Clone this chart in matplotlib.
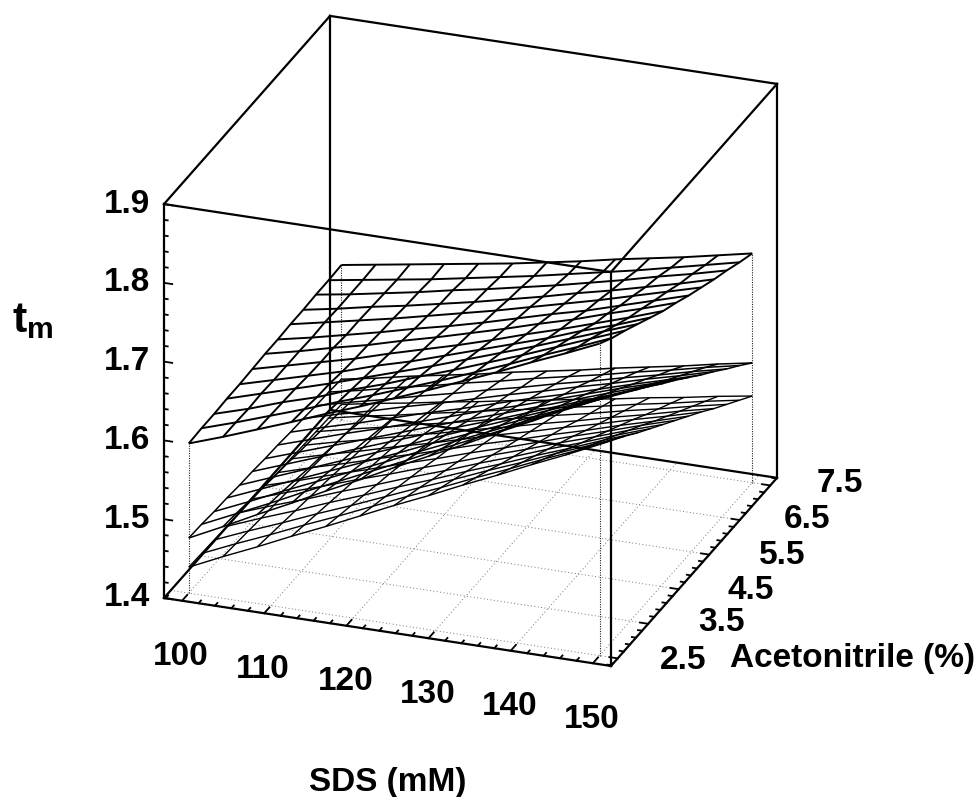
import itertools
import numpy as np
import matplotlib
matplotlib.use("Agg")
import matplotlib.pyplot as plt
from mpl_toolkits.mplot3d import proj3d

plt.rcParams['font.family'] = ['Liberation Sans', 'DejaVu Sans']
plt.rcParams['mathtext.fontset'] = 'custom'
plt.rcParams['mathtext.bf'] = 'Liberation Sans:bold'
plt.rcParams['mathtext.rm'] = 'Liberation Sans:bold'

# ---- data ---------------------------------------------------------------
sds_values = [100 + 50 * i / 12 for i in range(13)]
acn_values = [2.5 + 5 * j / 12 for j in range(13)]

surface_top = [
    [1.590,1.605,1.621,1.637,1.654,1.670,1.687,1.704,1.722,1.740,1.759,1.777,1.796],
    [1.591,1.605,1.620,1.635,1.651,1.666,1.682,1.698,1.715,1.732,1.750,1.767,1.785],
    [1.591,1.604,1.619,1.632,1.648,1.662,1.678,1.693,1.709,1.725,1.742,1.759,1.776],
    [1.592,1.605,1.618,1.631,1.645,1.659,1.673,1.688,1.703,1.718,1.734,1.750,1.766],
    [1.592,1.604,1.616,1.628,1.642,1.654,1.668,1.682,1.696,1.710,1.726,1.740,1.756],
    [1.593,1.604,1.615,1.626,1.639,1.651,1.663,1.676,1.690,1.703,1.717,1.731,1.746],
    [1.594,1.604,1.615,1.625,1.637,1.648,1.660,1.672,1.685,1.697,1.711,1.724,1.738],
    [1.594,1.603,1.613,1.623,1.634,1.644,1.655,1.667,1.679,1.690,1.703,1.716,1.729],
    [1.595,1.604,1.613,1.622,1.632,1.642,1.652,1.663,1.674,1.685,1.697,1.709,1.721],
    [1.595,1.603,1.612,1.620,1.629,1.638,1.648,1.658,1.669,1.679,1.690,1.701,1.713],
    [1.596,1.603,1.611,1.619,1.628,1.636,1.645,1.654,1.664,1.674,1.685,1.695,1.706],
    [1.596,1.603,1.610,1.617,1.625,1.633,1.641,1.650,1.659,1.668,1.678,1.688,1.698],
    [1.597,1.604,1.611,1.618,1.625,1.632,1.640,1.648,1.657,1.665,1.673,1.682,1.691],
]
surface_mid = [
    [1.470,1.491,1.513,1.534,1.556,1.577,1.599,1.620,1.641,1.663,1.684,1.706,1.727],
    [1.469,1.489,1.509,1.530,1.550,1.570,1.590,1.611,1.631,1.651,1.672,1.692,1.712],
    [1.467,1.486,1.506,1.525,1.544,1.563,1.583,1.602,1.621,1.640,1.660,1.679,1.698],
    [1.466,1.484,1.502,1.520,1.538,1.556,1.575,1.593,1.611,1.629,1.647,1.665,1.683],
    [1.464,1.481,1.498,1.515,1.532,1.549,1.567,1.584,1.601,1.618,1.635,1.652,1.669],
    [1.463,1.479,1.495,1.511,1.527,1.543,1.559,1.574,1.590,1.606,1.622,1.638,1.654],
    [1.461,1.476,1.491,1.506,1.521,1.536,1.551,1.565,1.580,1.595,1.610,1.625,1.640],
    [1.460,1.474,1.488,1.501,1.515,1.529,1.543,1.556,1.570,1.584,1.598,1.611,1.625],
    [1.458,1.471,1.483,1.496,1.509,1.521,1.534,1.547,1.559,1.572,1.585,1.597,1.610],
    [1.457,1.469,1.480,1.492,1.503,1.515,1.527,1.538,1.550,1.561,1.573,1.584,1.596],
    [1.455,1.466,1.476,1.487,1.497,1.508,1.518,1.529,1.539,1.550,1.560,1.571,1.581],
    [1.454,1.463,1.473,1.482,1.492,1.501,1.511,1.520,1.529,1.539,1.548,1.558,1.567],
    [1.452,1.460,1.469,1.477,1.485,1.494,1.502,1.510,1.519,1.527,1.535,1.544,1.552],
]
surface_low = [
    [1.433,1.453,1.472,1.492,1.511,1.531,1.551,1.570,1.590,1.609,1.629,1.648,1.668],
    [1.432,1.451,1.469,1.488,1.506,1.525,1.544,1.562,1.581,1.599,1.618,1.636,1.655],
    [1.431,1.449,1.466,1.484,1.501,1.519,1.537,1.554,1.572,1.589,1.607,1.624,1.642],
    [1.430,1.447,1.463,1.480,1.496,1.513,1.529,1.546,1.562,1.579,1.595,1.612,1.628],
    [1.429,1.445,1.460,1.476,1.491,1.507,1.522,1.538,1.553,1.569,1.584,1.600,1.615],
    [1.428,1.443,1.457,1.472,1.486,1.501,1.515,1.530,1.544,1.559,1.573,1.588,1.602],
    [1.427,1.440,1.454,1.467,1.481,1.494,1.508,1.521,1.535,1.549,1.562,1.576,1.589],
    [1.425,1.438,1.450,1.463,1.475,1.488,1.501,1.513,1.526,1.538,1.551,1.563,1.576],
    [1.424,1.436,1.447,1.459,1.470,1.482,1.494,1.505,1.517,1.528,1.540,1.551,1.563],
    [1.423,1.434,1.444,1.455,1.465,1.476,1.486,1.497,1.507,1.518,1.528,1.539,1.549],
    [1.422,1.432,1.441,1.451,1.460,1.470,1.479,1.489,1.498,1.508,1.517,1.527,1.536],
    [1.421,1.430,1.438,1.447,1.455,1.464,1.472,1.481,1.489,1.498,1.506,1.515,1.523],
    [1.420,1.428,1.435,1.443,1.450,1.458,1.465,1.473,1.480,1.488,1.495,1.503,1.510],
]

x_ticks = [100, 110, 120, 130, 140, 150]
y_ticks = [2.5, 3.5, 4.5, 5.5, 6.5, 7.5]
z_ticks = [1.4, 1.5, 1.6, 1.7, 1.8, 1.9]
x_labels = ['100', '110', '120', '130', '140', '150']
y_labels = ['2.5', '3.5', '4.5', '5.5', '6.5', '7.5']
z_labels = ['1.4', '1.5', '1.6', '1.7', '1.8', '1.9']

# ---- figure -------------------------------------------------------------
W, H = 978, 797
XMIN, XMAX = 97.8, 152.2
YMIN, YMAX = 2.28, 7.72
ZMIN, ZMAX = 1.4, 1.9

fig = plt.figure(figsize=(W / 100, H / 100), dpi=100, facecolor='white')
ax = fig.add_subplot(projection='3d', proj_type='ortho', computed_zorder=False)
ax.set_axis_off()
ax.view_init(elev=24.53, azim=-69.88)
ax.set_box_aspect((476, 482.6, 433))
ax.set_xlim(XMIN, XMAX, view_margin=0)
ax.set_ylim(YMIN, YMAX, view_margin=0)
ax.set_zlim(ZMIN, ZMAX, view_margin=0)


def place(size, left=0.0, bottom=0.0):
    ax.set_position([left / W, bottom / H, size / W, size / H])
    ax.apply_aspect()


def to_px(x, y, z):
    xs, ys, _ = proj3d.proj_transform(x, y, z, ax.get_proj())
    return ax.transData.transform((xs, ys))


# fit the box on the figure: front-left-bottom corner and total width
size = 700.0
place(size)
span = to_px(XMAX, YMAX, ZMIN)[0] - to_px(XMIN, YMIN, ZMIN)[0]
size *= 613.0 / span
place(size)
p = to_px(XMIN, YMIN, ZMIN)
place(size, 164 - p[0], (H - 598) - p[1])

# ---- box ----------------------------------------------------------------
corners = list(itertools.product((XMIN, XMAX), (YMIN, YMAX), (ZMIN, ZMAX)))
for a, b in itertools.combinations(corners, 2):
    if sum(u != v for u, v in zip(a, b)) == 1:
        ax.plot(*zip(a, b), color='black', lw=1.6, solid_capstyle='projecting', zorder=5)

# ---- floor grid ---------------------------------------------------------
for x in x_ticks:
    ax.plot([x, x], [YMIN, YMAX], [ZMIN, ZMIN], color='#777777', lw=0.7, ls=(0, (1, 2.5)), zorder=1)
for y in y_ticks:
    ax.plot([XMIN, XMAX], [y, y], [ZMIN, ZMIN], color='#777777', lw=0.7, ls=(0, (1, 2.5)), zorder=1)

# ---- tick marks ---------------------------------------------------------
def ticks(values, major, draw):
    for v in values:
        draw(v, any(abs(v - m) < 1e-6 for m in major))


ticks(np.arange(98, 153, 2), x_ticks,
      lambda v, M: ax.plot([v, v], [YMIN, YMIN + (0.17 if M else 0.08)], [ZMIN, ZMIN],
                           color='black', lw=1.3, zorder=5))
ticks(np.arange(2.3, 7.8, 0.2), y_ticks,
      lambda v, M: ax.plot([XMAX, XMAX - (1.0 if M else 0.5)], [v, v], [ZMIN, ZMIN],
                           color='black', lw=1.3, zorder=5))
ticks(np.arange(1.4, 1.901, 0.02), z_ticks,
      lambda v, M: ax.plot([XMIN, XMIN + (1.0 if M else 0.45)], [YMIN, YMIN], [v, v],
                           color='black', lw=1.3, zorder=5))

# ---- surfaces -----------------------------------------------------------
X, Y = np.meshgrid(sds_values, acn_values)
Z_top, Z_mid, Z_low = map(np.array, (surface_top, surface_mid, surface_low))

for (i, j) in [(0, 0), (0, -1), (-1, 0), (-1, -1)]:
    ax.plot([X[j, i]] * 2, [Y[j, i]] * 2, [ZMIN, Z_top[j, i]],
            color='#222222', lw=0.8, ls=(0, (1, 1.2)), zorder=2)

ax.plot_wireframe(X, Y, Z_low, rstride=1, cstride=1, color='black', lw=1.0, zorder=3)
ax.plot_wireframe(X, Y, Z_mid, rstride=1, cstride=1, color='black', lw=1.1, zorder=3)
ax.plot_wireframe(X, Y, Z_top, rstride=1, cstride=1, color='black', lw=1.4, zorder=4)

# ---- labels -------------------------------------------------------------
style = dict(fontsize=24, fontweight='bold', color='black', ha='center', va='center')


def label_at(point, dx, dy, text):
    """Text placed from a data point through the 3D projection, dx/dy in pixels (y down)."""
    px, py = to_px(*point)
    fig.text((px + dx) / W, (py - dy) / H, text, **style)


y_label_nudges = [(65, 2), (73, -1), (72, 1), (73, 1), (67, -1), (70, -2)]
for v, s in zip(x_ticks, x_labels):
    label_at((v, YMIN, ZMIN), -1, 56, s)
for v, s, (dx, dy) in zip(y_ticks, y_labels, y_label_nudges):
    label_at((XMAX, v, ZMIN), dx, dy, s)
for v, s in zip(z_ticks, z_labels):
    label_at((XMIN, YMIN, v), -37, 0, s)

fig.text(388 / W, 1 - 782 / H, 'SDS (mM)', **style)
fig.text(853 / W, 1 - 658 / H, 'Acetonitrile (%)', **style)
fig.text(33 / W, 1 - 321 / H, r'$\mathbf{t_m}$', fontsize=31, color='black', ha='center', va='center')

fig.savefig('out.png', dpi=100, facecolor='white')
